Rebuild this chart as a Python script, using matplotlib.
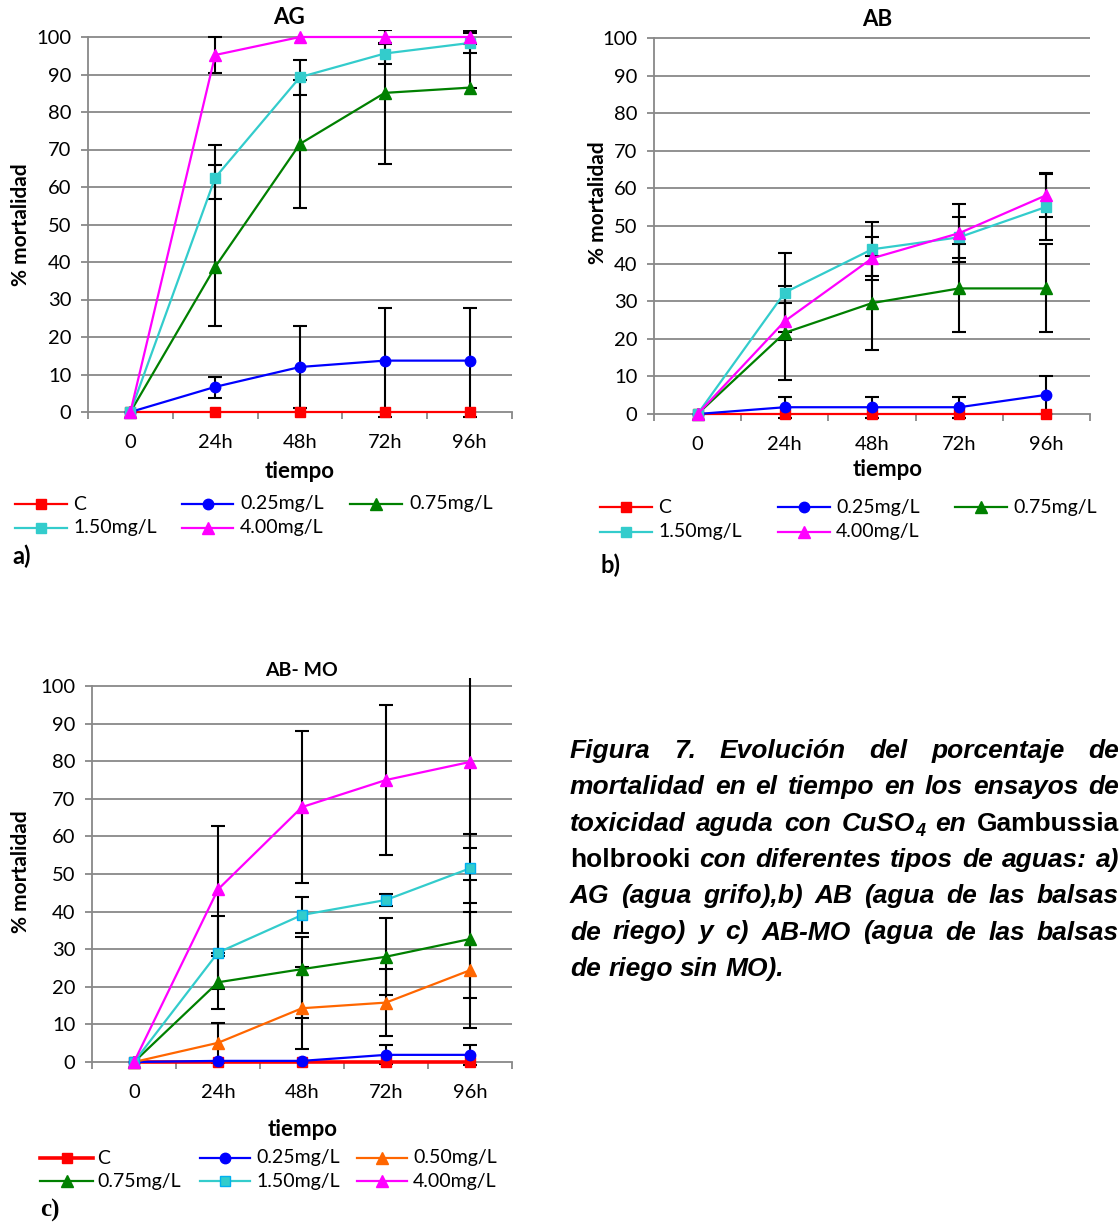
import matplotlib
matplotlib.use('Agg')
import matplotlib.pyplot as plt
from matplotlib.lines import Line2D
import numpy as np

W, H, DPI = 1120, 1224, 100
plt.rcParams['font.family'] = ['Lato', 'DejaVu Sans']

# ---------------- data ----------------
time_labels = ["0", "24h", "48h", "72h", "96h"]

# Panel a) AG
ag_C      = [0, 0, 0, 0, 0]
ag_025    = [0, 6.7, 12.0, 13.7, 13.7]
ag_025_lo = [0, 3.0, 10.9, 14.9, 14.9]
ag_025_hi = [0, 2.6, 10.9, 14.1, 14.1]
ag_075    = [0, 38.7, 71.5, 85.1, 86.5]
ag_075_lo = [0, 15.8, 17.0, 18.9, 0]
ag_075_hi = [0, 27.2, 17.0, 18.9, 15.0]
ag_150    = [0, 62.5, 89.3, 95.6, 98.4]
ag_150_lo = [0, 5.8, 4.7, 2.9, 2.7]
ag_150_hi = [0, 8.7, 4.7, 2.9, 2.7]
ag_400    = [0, 95.2, 100, 100, 100]
ag_400_lo = [0, 4.8, 0, 1.8, 1.9]
ag_400_hi = [0, 4.8, 0, 1.8, 1.9]

# Panel b) AB
ab_C      = [0, 0, 0, 0, 0]
ab_025    = [0, 1.8, 1.8, 1.8, 5.1]
ab_025_e  = [0, 2.8, 2.8, 2.8, 5.1]
ab_075    = [0, 21.6, 29.5, 33.4, 33.4]
ab_075_e  = [0, 12.5, 12.5, 11.7, 11.7]
ab_150    = [0, 32.3, 43.8, 47.0, 55.1]
ab_150_e  = [0, 10.6, 7.2, 5.5, 8.8]
ab_400    = [0, 24.7, 41.4, 48.1, 58.2]
ab_400_e  = [0, 4.9, 5.8, 7.8, 5.9]

# Panel c) AB-MO
mo_C      = [0, 0, 0, 0, 0]
mo_025    = [0, 0.3, 0.3, 1.9, 1.9]
mo_025_e  = [0, 0, 0, 2.5, 2.6]
mo_050    = [0, 5.1, 14.3, 15.8, 24.4]
mo_050_e  = [0, 5.4, 10.9, 9.0, 15.4]
mo_075    = [0, 21.2, 24.7, 28.0, 32.7]
mo_075_lo = [0, 7.1, 13.1, 10.2, 15.7]
mo_075_hi = [0, 7.1, 8.6, 10.2, 15.7]
mo_150    = [0, 29.1, 39.1, 43.1, 51.5]
mo_150_e  = [0, 9.7, 4.9, 1.6, 9.1]
mo_400    = [0, 45.9, 67.8, 75.0, 79.8]
mo_400_e  = [0, 16.9, 20.2, 20.0, 23.0]

# ---------------- styles ----------------
RED, BLUE, GREEN, CYAN, MAG, ORANGE = '#FF0000', '#0000FF', '#008000', '#33CCCC', '#FF00FF', '#FF6600'
GRID = '#888888'
STY = {
    'C':         dict(color=RED, marker='s', ms=7.5),
    '0.25mg/L':  dict(color=BLUE, marker='o', ms=7.5),
    '0.50mg/L':  dict(color=ORANGE, marker='^', ms=8.5),
    '0.75mg/L':  dict(color=GREEN, marker='^', ms=8.5),
    '1.50mg/L':  dict(color=CYAN, marker='s', ms=7.5),
    '4.00mg/L':  dict(color=MAG, marker='^', ms=8.5),
}
TICK_FS = 14.5
LEG_FS = 14
LAB_FS = 15
TIT_FS = 16

fig = plt.figure(figsize=(W / DPI, H / DPI), dpi=DPI)


def fx(px):
    return px / W


def fy(py):
    return 1 - py / H


def axes_rect(left, right, y100, y0):
    upp = (y0 - y100) / 100.0
    top = y100 - 2 * upp
    bottom = y0 + 1.5 * upp
    return [left / W, 1 - bottom / H, (right - left) / W, (bottom - top) / H]


def panel(rect, series, thick_red=False, cyan_edge=None):
    ax = fig.add_axes(rect)
    x = np.arange(len(time_labels))
    ax.set_xlim(-0.5, len(time_labels) - 0.5)
    ax.set_ylim(-1.5, 102)
    ax.set_yticks(np.arange(0, 101, 10))
    for gy in range(10, 101, 10):
        ax.axhline(gy, color=GRID, lw=1.3, zorder=0)
    for s in ['top', 'right']:
        ax.spines[s].set_visible(False)
    for s in ['left', 'bottom']:
        ax.spines[s].set_color(GRID)
        ax.spines[s].set_linewidth(1.3)
    ax.spines['bottom'].set_position(('data', 0))
    ax.spines['left'].set_bounds(0, 100)
    ax.set_xticks(x)
    ax.set_xticklabels(time_labels)
    ax.set_xticks(np.arange(-0.5, len(time_labels), 1), minor=True)
    ax.tick_params(axis='x', which='major', length=0, pad=16, labelsize=TICK_FS)
    ax.tick_params(axis='x', which='minor', length=5, width=1.3, color=GRID, direction='out')
    ax.tick_params(axis='y', length=5, width=1.3, color=GRID, pad=7, labelsize=TICK_FS)
    ax.patch.set_alpha(0)
    for name, v, lo, hi in series:
        v, lo, hi = np.array(v, float), np.array(lo, float), np.array(hi, float)
        idx = np.where(lo + hi > 0)[0]
        if len(idx):
            ax.errorbar(x[idx], v[idx], yerr=[lo[idx], hi[idx]], fmt='none', ecolor='black',
                        elinewidth=1.5, capsize=4.8, capthick=1.5, zorder=2)
    for name, v, lo, hi in series:
        st = STY[name]
        lw = 1.6
        mec = st['color']
        if name == 'C' and thick_red:
            lw = 2.6
        if name == '1.50mg/L' and cyan_edge:
            mec = cyan_edge
        ax.plot(x, v, color=st['color'], marker=st['marker'], ms=st['ms'], lw=lw,
                mec=mec, mfc=st['color'], zorder=3, clip_on=False)
    return ax


def legend(entries, rows_y, cols, thick_red=False, cyan_edge=None):
    for i, name in enumerate(entries):
        r, c = divmod(i, 3)
        y = rows_y[r]
        x0, x1, xt = cols[c]
        st = STY[name]
        lw = 2.6 if (name == 'C' and thick_red) else 1.6
        mec = cyan_edge if (name == '1.50mg/L' and cyan_edge) else st['color']
        fig.add_artist(Line2D([fx(x0), fx(x1)], [fy(y), fy(y)], color=st['color'], lw=lw,
                              transform=fig.transFigure))
        fig.add_artist(Line2D([fx((x0 + x1) / 2)], [fy(y)], color=st['color'], marker=st['marker'],
                              ms=st['ms'], mec=mec, mfc=st['color'], lw=0, transform=fig.transFigure))
        fig.text(fx(xt), fy(y), name, fontsize=LEG_FS, va='center', ha='left')


# ---------------- panel a ----------------
panel(axes_rect(88, 512, 37, 412), [
    ('C', ag_C, ag_C, ag_C),
    ('0.25mg/L', ag_025, ag_025_lo, ag_025_hi),
    ('0.75mg/L', ag_075, ag_075_lo, ag_075_hi),
    ('1.50mg/L', ag_150, ag_150_lo, ag_150_hi),
    ('4.00mg/L', ag_400, ag_400_lo, ag_400_hi),
])
fig.text(fx(289), fy(18), 'AG', fontsize=TIT_FS, fontweight='bold', ha='center', va='center')
fig.text(fx(21), fy(225), '% mortalidad', fontsize=LAB_FS, fontweight='bold', rotation=90, ha='center', va='center')
fig.text(fx(300), fy(472), 'tiempo', fontsize=16, fontweight='bold', ha='center', va='center')
legend(['C', '0.25mg/L', '0.75mg/L', '1.50mg/L', '4.00mg/L'], [504, 528],
       [(15, 67, 73), (182, 233, 240), (350, 402, 409)])
fig.text(fx(12), fy(556), 'a)', fontsize=17, fontweight='bold', ha='left', va='center')

# ---------------- panel b ----------------
panel(axes_rect(654, 1090, 38, 414), [
    ('C', ab_C, ab_C, ab_C),
    ('0.25mg/L', ab_025, ab_025_e, ab_025_e),
    ('0.75mg/L', ab_075, ab_075_e, ab_075_e),
    ('1.50mg/L', ab_150, ab_150_e, ab_150_e),
    ('4.00mg/L', ab_400, ab_400_e, ab_400_e),
])
fig.text(fx(877), fy(20), 'AB', fontsize=TIT_FS, fontweight='bold', ha='center', va='center')
fig.text(fx(598), fy(203), '% mortalidad', fontsize=LAB_FS, fontweight='bold', rotation=90, ha='center', va='center')
fig.text(fx(888), fy(470), 'tiempo', fontsize=16, fontweight='bold', ha='center', va='center')
legend(['C', '0.25mg/L', '0.75mg/L', '1.50mg/L', '4.00mg/L'], [507, 532],
       [(600, 652, 658), (778, 830, 836), (955, 1007, 1013)])
fig.text(fx(600), fy(565), 'b)', fontsize=17, fontweight='bold', ha='left', va='center')

# ---------------- panel c ----------------
panel(axes_rect(92, 512, 686, 1062), [
    ('C', mo_C, mo_C, mo_C),
    ('0.25mg/L', mo_025, mo_025_e, mo_025_e),
    ('0.50mg/L', mo_050, mo_050_e, mo_050_e),
    ('0.75mg/L', mo_075, mo_075_lo, mo_075_hi),
    ('1.50mg/L', mo_150, mo_150_e, mo_150_e),
    ('4.00mg/L', mo_400, mo_400_e, mo_400_e),
], thick_red=True, cyan_edge='#00B0F0')
fig.text(fx(301), fy(670), 'AB- MO', fontsize=14, fontweight='bold', ha='center', va='center')
fig.text(fx(21), fy(872), '% mortalidad', fontsize=LAB_FS, fontweight='bold', rotation=90, ha='center', va='center')
fig.text(fx(303), fy(1130), 'tiempo', fontsize=16, fontweight='bold', ha='center', va='center')
legend(['C', '0.25mg/L', '0.50mg/L', '0.75mg/L', '1.50mg/L', '4.00mg/L'], [1158, 1181],
       [(40, 93, 97), (200, 250, 256), (357, 407, 413)], thick_red=True, cyan_edge='#00B0F0')
fig.text(fx(40), fy(1210), 'c)', fontsize=18, fontweight='bold', family='Liberation Serif',
         ha='left', va='center')

# ---------------- caption (justified) ----------------
cap_lines = [
    "Figura 7. Evolución del porcentaje de",
    "mortalidad en el tiempo en los ensayos de",
    "toxicidad aguda con CuSO_4 en Gambussia",
    "holbrooki con diferentes tipos de aguas: a)",
    "AG (agua grifo),b) AB (agua de las balsas",
    "de riego) y c) AB-MO (agua de las balsas",
    "de riego sin MO).",
]
upright = {"Gambussia", "holbrooki"}
CAP_L, CAP_R = 570, 1119
CAP_Y0, CAP_DY = 758, 36.3
CAP_FS, SUB_FS = 19, 13
renderer = fig.canvas.get_renderer()
space_w = CAP_FS * DPI / 72 * 0.278
for li, line in enumerate(cap_lines):
    words = line.split(' ')
    wobjs = []
    for w in words:
        style = 'normal' if w in upright else 'italic'
        if '_' in w:
            base, sub = w.split('_')
            segs = [(base, CAP_FS, 0), (sub, SUB_FS, 5)]
        else:
            segs = [(w, CAP_FS, 0)]
        objs = []
        for t, size, dy in segs:
            o = fig.text(0, 0, t, fontsize=size, fontstyle=style, fontweight='bold',
                         family=['Liberation Sans', 'DejaVu Sans'], ha='left', va='baseline')
            wdt = o.get_window_extent(renderer).width
            objs.append((o, wdt, dy))
        wobjs.append(objs)
    total = sum(sum(wd for _, wd, _ in objs) for objs in wobjs)
    last = (li == len(cap_lines) - 1)
    gap = space_w if last else (CAP_R - CAP_L - total) / (len(words) - 1)
    xc = CAP_L
    yb = CAP_Y0 + li * CAP_DY
    for objs in wobjs:
        for o, wd, dy in objs:
            o.set_position((fx(xc), fy(yb + dy)))
            xc += wd
        xc += gap

fig.savefig('out.png', dpi=DPI)
